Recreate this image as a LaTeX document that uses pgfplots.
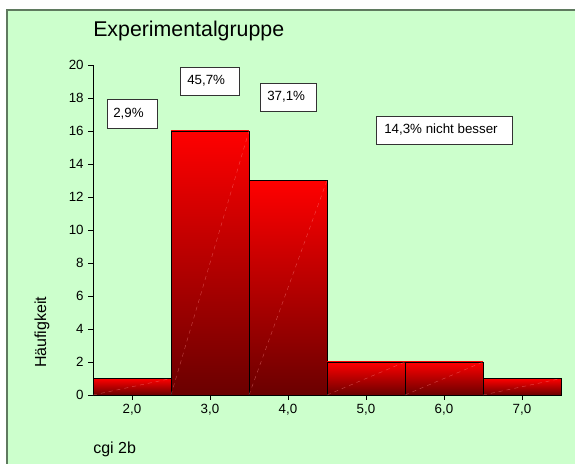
\documentclass[border=0pt]{standalone}
\usepackage{pgfplots}
\pgfplotsset{compat=1.18}
\usepackage{fontspec}
\setmainfont{Liberation Sans}
\definecolor{bggreen}{HTML}{CCFFCC}
\definecolor{framecol}{HTML}{5F7A5F}
\definecolor{bartop}{HTML}{FF0000}
\definecolor{barbot}{HTML}{6A0000}
\definecolor{diagcol}{HTML}{FF9090}
\begin{document}
\begin{tikzpicture}[x=0.75pt,y=0.75pt]
\useasboundingbox (0,0) rectangle (575,464);
\fill[bggreen] (7,-10) rectangle (590,454);
\draw[framecol, line width=1.2pt] (7,-10) -- (7,454) -- (590,454);
\begin{axis}[
  at={(69.75pt,51.75pt)}, anchor=south west,
  scale only axis, width=351pt, height=247.5pt,
  xmin=1.5, xmax=7.5, ymin=0, ymax=20,
  axis lines=left, axis line style={-, black, line width=0.6pt},
  xtick={2,3,4,5,6,7},
  xticklabels={{2,0},{3,0},{4,0},{5,0},{6,0},{7,0}},
  ytick={0,2,...,20},
  tick align=outside, major tick length=3.5pt,
  tick style={black, line width=0.6pt},
  ticklabel style={font=\fontsize{10}{12}\selectfont},
  /pgf/number format/assume math mode=true,
  title={Experimentalgruppe},
  title style={font=\fontsize{16}{19}\selectfont, at={(axis description cs:0,1.0636)}, anchor=base west, inner sep=0pt},
  xlabel={cgi 2b},
  xlabel style={font=\fontsize{12}{14}\selectfont, at={(axis description cs:0,-0.176)}, anchor=base west, inner sep=0pt},
  ylabel={Häufigkeit},
  ylabel style={font=\fontsize{12}{14}\selectfont, at={(axis description cs:-0.109,0.19)}, anchor=center, rotate=0},
  clip=false,
  histbar/.style={ybar, bar width=1, bar shift=0pt, draw=black, line width=0.6pt,
    top color=bartop, bottom color=barbot},
]
\addplot[histbar] coordinates {(2,1)};
\addplot[histbar] coordinates {(3,16)};
\addplot[histbar] coordinates {(4,13)};
\addplot[histbar] coordinates {(5,2)};
\addplot[histbar] coordinates {(6,2)};
\addplot[histbar] coordinates {(7,1)};
\addplot[diagcol, line width=0.3pt, dashed, unbounded coords=jump, opacity=0.5]
  coordinates {(1.5,0) (2.5,1) (2.5,nan) (2.5,0) (3.5,16) (3.5,nan) (3.5,0) (4.5,13) (4.5,nan)
               (4.5,0) (5.5,2) (5.5,nan) (5.5,0) (6.5,2) (6.5,nan) (6.5,0) (7.5,1)};
\end{axis}
\begin{scope}[font=\fontsize{10}{12}\selectfont]
\draw[black!80, fill=white, line width=0.7pt] (107,365) rectangle (157,336);
\node[anchor=west, inner sep=0pt] at (113,350.5) {2,9\%};
\draw[black!80, fill=white, line width=0.7pt] (180,397) rectangle (239,369);
\node[anchor=west, inner sep=0pt] at (187,383) {45,7\%};
\draw[black!80, fill=white, line width=0.7pt] (260,381) rectangle (316,353);
\node[anchor=west, inner sep=0pt] at (267,367) {37,1\%};
\draw[black!80, fill=white, line width=0.7pt] (376,348) rectangle (512,320);
\node[anchor=west, inner sep=0pt] at (384,334) {14,3\% nicht besser};
\end{scope}
\end{tikzpicture}
\end{document}
